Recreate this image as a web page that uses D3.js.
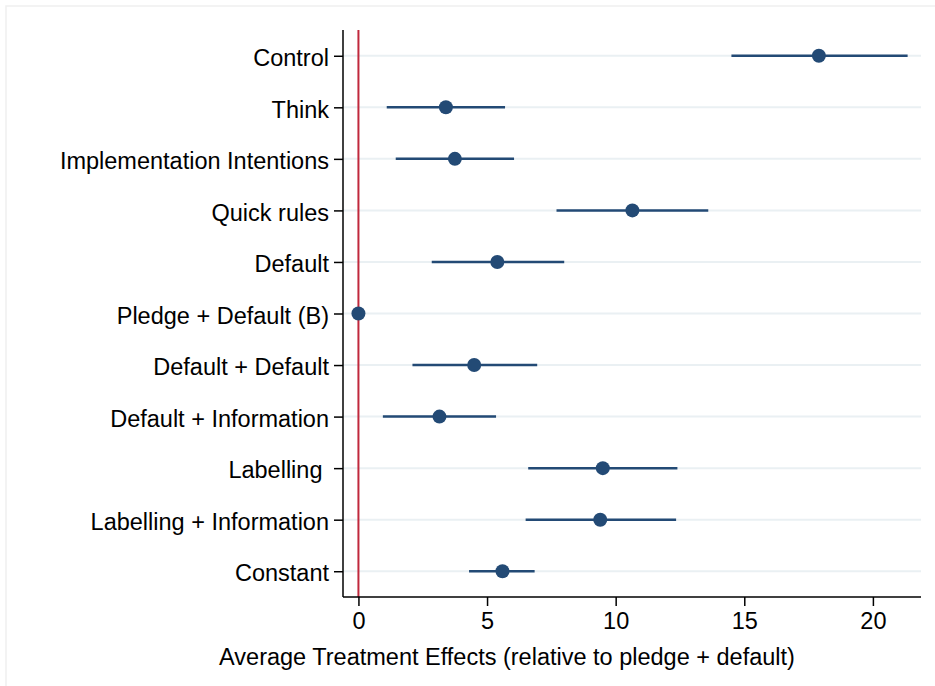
<!DOCTYPE html>
<html>
<head>
<meta charset="utf-8">
<script src="https://cdn.jsdelivr.net/npm/d3@7"></script>
<style>
  body { margin: 0; background: #fff; }
  text { font-family: "Liberation Sans", Arial, Helvetica, sans-serif; fill: #000; }
</style>
</head>
<body>
<svg id="chart" width="935" height="686"></svg>
<script>
// treatment groups, top to bottom
var groups = ["Control", "Think", "Implementation Intentions", "Quick rules", "Default",
              "Pledge + Default (B)", "Default + Default", "Default + Information",
              "Labelling ", "Labelling + Information", "Constant"];
// point estimates and 95% CI bounds
var estimates = [17.9, 3.4, 3.75, 10.65, 5.4, 0, 4.5, 3.15, 9.5, 9.4, 5.6];
var ciLow  = [14.5, 1.1, 1.45, 7.7, 2.85, 0, 2.1, 0.95, 6.6, 6.5, 4.3];
var ciHigh = [21.35, 5.7, 6.05, 13.6, 8.0, 0, 6.95, 5.35, 12.4, 12.35, 6.85];
var xTicks = [0, 5, 10, 15, 20];
var xTitle = "Average Treatment Effects (relative to pledge + default)";

var svg = d3.select("#chart");

// faint outer frame
svg.append("rect")
    .attr("x", 6).attr("y", 6)
    .attr("width", 940).attr("height", 690)
    .attr("fill", "none")
    .attr("stroke", "#efefef")
    .attr("stroke-width", 1.5);

// plot region edges (note: "top" is reserved on window)
var pLeft = 343, pRight = 921, pTop = 30, pBottom = 597;

var x = d3.scaleLinear().domain([-0.6, 21.87]).range([pLeft, pRight]);
var y = d3.scalePoint().domain(groups).range([pTop, pBottom]).padding(0.5);

var rows = groups.map(function(g, i) {
    return { name: g, est: estimates[i], lo: ciLow[i], hi: ciHigh[i] };
});

// gridlines
svg.selectAll("line.grid")
    .data(groups)
  .enter().append("line")
    .attr("class", "grid")
    .attr("x1", pLeft).attr("x2", pRight)
    .attr("y1", function(d) { return y(d); })
    .attr("y2", function(d) { return y(d); })
    .attr("stroke", "#eaf0f3")
    .attr("stroke-width", 2);

// zero reference line
svg.append("line")
    .attr("x1", x(0)).attr("x2", x(0))
    .attr("y1", pTop).attr("y2", pBottom)
    .attr("stroke", "#c0283c")
    .attr("stroke-width", 2);

// confidence intervals
svg.selectAll("line.ci")
    .data(rows)
  .enter().append("line")
    .attr("class", "ci")
    .attr("x1", function(d) { return x(d.lo); })
    .attr("x2", function(d) { return x(d.hi); })
    .attr("y1", function(d) { return y(d.name); })
    .attr("y2", function(d) { return y(d.name); })
    .attr("stroke", "#234a75")
    .attr("stroke-width", 2.5);

// point estimates
svg.selectAll("circle.est")
    .data(rows)
  .enter().append("circle")
    .attr("class", "est")
    .attr("cx", function(d) { return x(d.est); })
    .attr("cy", function(d) { return y(d.name); })
    .attr("r", 7)
    .attr("fill", "#234a75");

// y axis
var yAxis = svg.append("g")
    .attr("transform", "translate(" + pLeft + ",0)")
    .call(d3.axisLeft(y).tickSize(9).tickPadding(5));
yAxis.select(".domain").attr("d", "M0," + pTop + "V" + pBottom).attr("stroke-width", 1.5);
yAxis.selectAll(".tick line").attr("stroke-width", 1.5);
yAxis.selectAll(".tick text")
    .attr("font-size", "23.5px")
    .attr("dy", "0.37em")
    .attr("y", 1)
    .style("font-family", "'Liberation Sans', Arial, sans-serif")
    .attr("fill", "#000")
    .style("white-space", "pre");

// x axis
var xAxis = svg.append("g")
    .attr("transform", "translate(0," + pBottom + ")")
    .call(d3.axisBottom(x).tickValues(xTicks).tickSize(9).tickPadding(6));
xAxis.select(".domain").attr("d", "M" + pLeft + ",0H" + pRight).attr("stroke-width", 1.5);
xAxis.selectAll(".tick line").attr("stroke-width", 1.5);
xAxis.selectAll(".tick text")
    .attr("font-size", "23.5px")
    .style("font-family", "'Liberation Sans', Arial, sans-serif")
    .attr("fill", "#000");

// x axis title
svg.append("text")
    .attr("x", 507)
    .attr("y", 665)
    .attr("text-anchor", "middle")
    .attr("font-size", "23.5px")
    .text(xTitle);
</script>
</body>
</html>
